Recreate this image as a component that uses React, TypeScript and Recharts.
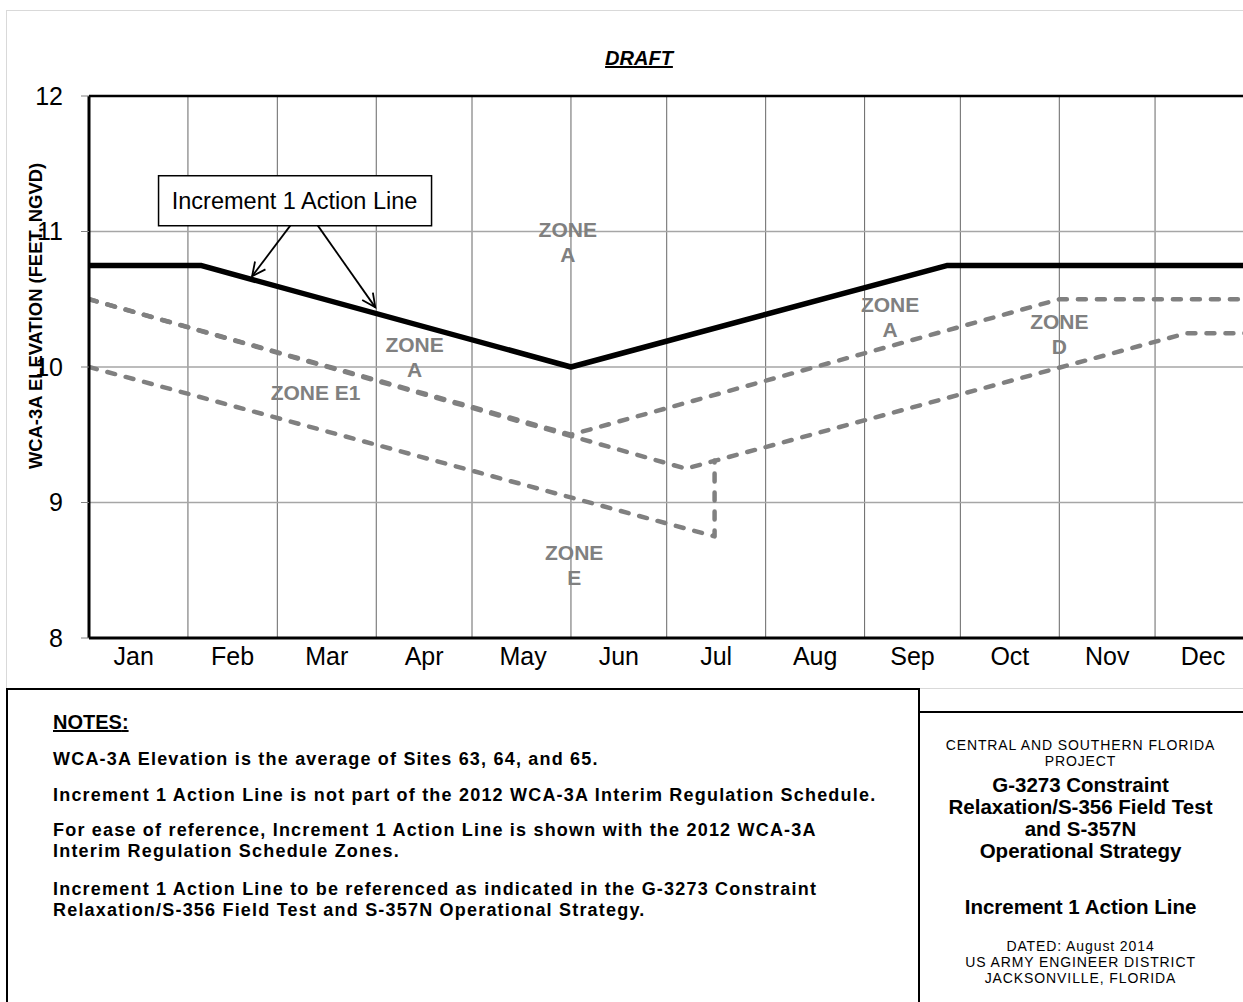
import { LineChart, Line, XAxis, YAxis, CartesianGrid, ReferenceLine, ReferenceDot } from 'recharts'

// day of year (Jan 1 = 0) and elevation in feet NGVD
const actionDays = [0, 35, 151, 269, 365]
const actionLevels = [10.75, 10.75, 10.0, 10.75, 10.75]

const zoneAFloorDays = [0, 151, 304, 365]
const zoneAFloorLevels = [10.5, 9.5, 10.5, 10.5]

const zoneDFloorDays = [0, 187, 344, 365]
const zoneDFloorLevels = [10.5, 9.25, 10.25, 10.25]

const zoneE1FloorDays = [0, 196, 196]
const zoneE1FloorLevels = [10.0, 8.75, 9.31]

const monthNames = ['Jan', 'Feb', 'Mar', 'Apr', 'May', 'Jun', 'Jul', 'Aug', 'Sep', 'Oct', 'Nov', 'Dec']
const monthStarts = [0, 31, 59, 90, 120, 151, 181, 212, 243, 273, 304, 334, 365]
const monthMids = [14, 45, 74.5, 105, 136, 166, 196.5, 227.5, 258, 288.5, 319, 349]

const majorTicks = [8, 9, 10, 11, 12]
const minorTicks = [8, 8.25, 8.5, 8.75, 9, 9.25, 9.5, 9.75, 10, 10.25, 10.5, 10.75, 11, 11.25, 11.5, 11.75, 12]

const zoneLabels = ['ZONE\nA', 'ZONE\nA', 'ZONE\nD', 'ZONE\nA', 'ZONE E1', 'ZONE\nE']
const zoneLabelDays = [150, 251, 304, 102, 71, 152]
const zoneLabelLevels = [10.92, 10.37, 10.24, 10.07, 9.81, 8.54]

// callout "Increment 1 Action Line": box centre, then arrow tails/heads
const calloutText = 'Increment 1 Action Line'
const calloutDay = 64.4
const calloutLevel = 11.227
const arrowFromDays = [63.6, 71.2]
const arrowFromLevels = [11.06, 11.06]
const arrowToDays = [51.1, 89.7]
const arrowToLevels = [10.67, 10.44]

const notes = [
  ['WCA-3A Elevation is the average of Sites 63, 64, and 65.'],
  ['Increment 1 Action Line is not part of the 2012 WCA-3A Interim Regulation Schedule.'],
  ['For ease of reference, Increment 1 Action Line is shown with the 2012 WCA-3A', 'Interim Regulation Schedule Zones.'],
  ['Increment 1 Action Line to be referenced as indicated in the G-3273 Constraint', 'Relaxation/S-356 Field Test and S-357N Operational Strategy.'],
]

const titleLines = [
  { t: 'CENTRAL AND SOUTHERN FLORIDA', y: 745, b: false },
  { t: 'PROJECT', y: 761, b: false },
  { t: 'G-3273 Constraint', y: 785, b: true },
  { t: 'Relaxation/S-356 Field Test', y: 807, b: true },
  { t: 'and S-357N', y: 829, b: true },
  { t: 'Operational Strategy', y: 851, b: true },
  { t: 'Increment 1 Action Line', y: 907, b: true },
  { t: 'DATED: August 2014', y: 946, b: false },
  { t: 'US ARMY ENGINEER DISTRICT', y: 962, b: false },
  { t: 'JACKSONVILLE, FLORIDA', y: 978, b: false },
]

const toPoints = (days: number[], levels: number[]) => days.map((d, i) => ({ day: d, level: levels[i] }))

const FONT = '"Liberation Sans", Arial, sans-serif'
const ZONE_GRAY = '#808080'

function Arrow(props: any) {
  const { x1, y1, x2, y2 } = props
  const ang = Math.atan2(y2 - y1, x2 - x1)
  const len = 15
  const spread = 0.45
  const ax = x2 - len * Math.cos(ang - spread)
  const ay = y2 - len * Math.sin(ang - spread)
  const bx = x2 - len * Math.cos(ang + spread)
  const by = y2 - len * Math.sin(ang + spread)
  return (
    <g>
      <line x1={x1} y1={y1} x2={x2} y2={y2} stroke="#000" strokeWidth={1.8} />
      <polyline points={`${ax},${ay} ${x2},${y2} ${bx},${by}`} fill="none" stroke="#000" strokeWidth={1.8} />
    </g>
  )
}

function CalloutBox(props: any) {
  const { cx, cy } = props
  return (
    <g>
      <rect x={cx - 136} y={cy - 25} width={273} height={50} fill="#fff" stroke="#000" strokeWidth={1.5} />
      <text x={cx} y={cy} textAnchor="middle" dominantBaseline="central" fontFamily={FONT} fontSize={23.5} fill="#000">
        {calloutText}
      </text>
    </g>
  )
}

function zoneShape(text: string) {
  return (props: any) => {
    const { cx, cy } = props
    const lines = text.split('\n')
    const lh = 25
    const top = cy - ((lines.length - 1) * lh) / 2
    return (
      <text textAnchor="middle" fontFamily={FONT} fontWeight="bold" fontSize={21} fill={ZONE_GRAY}>
        {lines.map((l, i) => (
          <tspan key={i} x={cx} y={top + i * lh} dy="0.35em">{l}</tspan>
        ))}
      </text>
    )
  }
}

const line = (days: number[], levels: number[], key: string, dashed: boolean) => (
  <Line
    key={key}
    data={toPoints(days, levels)}
    dataKey="level"
    xAxisId="main"
    yAxisId="main"
    type="linear"
    stroke={dashed ? ZONE_GRAY : '#000'}
    strokeWidth={dashed ? 4.5 : 5.5}
    strokeDasharray={dashed ? '8 11' : undefined}
    strokeLinecap={dashed ? 'round' : 'butt'}
    strokeLinejoin="round"
    dot={false}
    activeDot={false}
    isAnimationActive={false}
  />
)

export default function App() {
  return (
    <div style={{ position: 'absolute', left: 0, top: 0, width: 1243, height: 1002, overflow: 'hidden', background: '#fff', fontFamily: FONT }}>
      <div style={{ position: 'absolute', left: 6, top: 10, width: 1300, height: 677, border: '1px solid #d9d9d9' }} />

      <div style={{ position: 'absolute', left: 0, width: 1278, top: 47, textAlign: 'center', fontSize: 20, fontWeight: 'bold', fontStyle: 'italic', textDecoration: 'underline', color: '#000' }}>
        DRAFT
      </div>

      <div style={{ position: 'absolute', left: 0, top: 0 }}>
        <LineChart width={1254} height={688} margin={{ top: 96, right: 0, bottom: 0, left: 0 }}>
          <XAxis xAxisId="main" dataKey="day" type="number" domain={[0, 365]} ticks={monthMids} allowDataOverflow
            tickFormatter={(v: number) => monthNames[monthMids.indexOf(v)] ?? ''}
            tickLine={false} tickSize={0} tickMargin={9} height={50} interval={0}
            axisLine={{ stroke: '#000', strokeWidth: 3 }}
            tick={{ fill: '#000', fontSize: 25, fontFamily: FONT }} />
          <XAxis xAxisId="grid" dataKey="day" type="number" domain={[0, 365]} ticks={monthStarts} hide height={0} allowDataOverflow />
          <YAxis yAxisId="main" type="number" domain={[8, 12]} ticks={majorTicks} width={89} interval={0}
            tickSize={8} tickMargin={18} tickLine={{ stroke: '#808080', strokeWidth: 1 }}
            axisLine={{ stroke: '#000', strokeWidth: 3 }}
            tick={{ fill: '#000', fontSize: 25, fontFamily: FONT }} />
          <YAxis yAxisId="minor" type="number" domain={[8, 12]} ticks={minorTicks} hide width={0} />

          <CartesianGrid xAxisId="grid" yAxisId="minor" vertical={false} stroke="#5a5a5a" strokeDasharray="1 1" strokeWidth={1} />
          <CartesianGrid xAxisId="grid" yAxisId="main" horizontal={false} stroke="#666" strokeWidth={1} />
          <CartesianGrid xAxisId="grid" yAxisId="main" vertical={false} stroke="#a6a6a6" strokeWidth={1.5} />

          <ReferenceLine xAxisId="main" yAxisId="main" y={12} stroke="#000" strokeWidth={2.5} />

          {zoneLabels.map((t, i) => (
            <ReferenceDot key={`z${i}`} xAxisId="main" yAxisId="main" x={zoneLabelDays[i]} y={zoneLabelLevels[i]} r={0} shape={zoneShape(t)} />
          ))}

          {line(zoneE1FloorDays, zoneE1FloorLevels, 'e1', true)}
          {line(zoneDFloorDays, zoneDFloorLevels, 'd', true)}
          {line(zoneAFloorDays, zoneAFloorLevels, 'a', true)}
          {line(actionDays, actionLevels, 'action', false)}

          {arrowFromDays.map((d, i) => (
            <ReferenceLine key={`ar${i}`} xAxisId="main" yAxisId="main"
              segment={[{ x: d, y: arrowFromLevels[i] }, { x: arrowToDays[i], y: arrowToLevels[i] }]}
              shape={Arrow} />
          ))}
          <ReferenceDot xAxisId="main" yAxisId="main" x={calloutDay} y={calloutLevel} r={0} shape={CalloutBox} />
        </LineChart>
      </div>

      <div style={{ position: 'absolute', left: 36, top: 316, width: 0, height: 0 }}>
        <div style={{ position: 'absolute', left: 0, top: 0, transform: 'translate(-50%, -50%) rotate(-90deg)', whiteSpace: 'nowrap', fontSize: 18.4, fontWeight: 'bold', color: '#000' }}>
          WCA-3A ELEVATION (FEET, NGVD)
        </div>
      </div>

      <div style={{ position: 'absolute', left: 6, top: 688, width: 914, height: 400, border: '2px solid #000', boxSizing: 'border-box' }}>
        <div style={{ position: 'absolute', left: 45, top: 20, fontSize: 20, fontWeight: 'bold', textDecoration: 'underline', lineHeight: '24px' }}>
          NOTES<span style={{ textDecoration: 'none' }}>:</span>
        </div>
        {notes.map((p, i) => (
          <div key={i} style={{ position: 'absolute', left: 45, top: [59, 95, 130, 189][i], fontSize: 18, letterSpacing: 1.2, fontWeight: 'bold', lineHeight: '21px', whiteSpace: 'nowrap' }}>
            {p.map((l, j) => <div key={j}>{l}</div>)}
          </div>
        ))}
      </div>

      <div style={{ position: 'absolute', left: 918, top: 711, width: 340, height: 300, borderTop: '2px solid #000' }} />
      {titleLines.map((l, i) => (
        <div key={i} style={{ position: 'absolute', left: 918, width: 325, top: l.y - (l.b ? 12 : 8), height: l.b ? 24 : 16, lineHeight: l.b ? '24px' : '16px', textAlign: 'center', whiteSpace: 'nowrap', fontSize: l.b ? 20.5 : 14, letterSpacing: l.b ? 0 : 0.9, fontWeight: l.b ? 'bold' : 'normal', color: '#000' }}>
          {l.t}
        </div>
      ))}
    </div>
  )
}
